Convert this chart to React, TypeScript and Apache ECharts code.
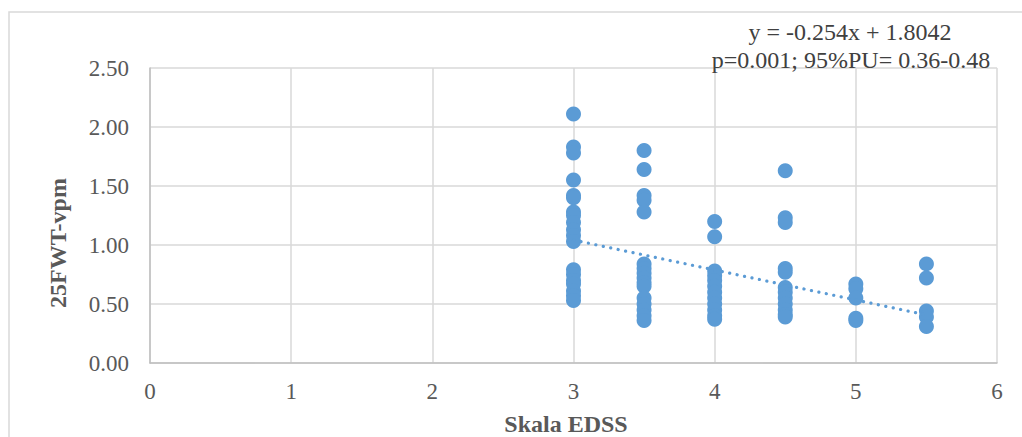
import React, { useEffect, useRef } from "react";
import * as echarts from "echarts";

const xCategories = [3, 3.5, 4, 4.5, 5, 5.5];
const values30 = [2.11, 1.83, 1.78, 1.55, 1.42, 1.4, 1.28, 1.25, 1.19, 1.13, 1.08, 1.03, 0.79, 0.75, 0.7, 0.67, 0.61, 0.57, 0.53];
const values35 = [1.8, 1.64, 1.42, 1.38, 1.28, 0.84, 0.8, 0.76, 0.72, 0.68, 0.65, 0.55, 0.5, 0.45, 0.4, 0.36];
const values40 = [1.2, 1.07, 0.78, 0.74, 0.7, 0.65, 0.6, 0.55, 0.5, 0.45, 0.4, 0.37];
const values45 = [1.63, 1.23, 1.19, 0.8, 0.77, 0.64, 0.6, 0.55, 0.5, 0.45, 0.41, 0.39];
const values50 = [0.67, 0.63, 0.55, 0.38, 0.36];
const values55 = [0.84, 0.72, 0.44, 0.39, 0.31];
const trendSlope = -0.254;
const trendIntercept = 1.8042;
const trendRange = [3, 5.5];
const xTicks = [0, 1, 2, 3, 4, 5, 6];
const yTicks = [0, 0.5, 1, 1.5, 2, 2.5];
const xAxisName = "Skala EDSS";
const yAxisName = "25FWT-vpm";
const equationText = "y = -0.254x + 1.8042";
const pText = "p=0.001; 95%PU= 0.36-0.48";

export default function App() {
  const ref = useRef<HTMLDivElement>(null);
  useEffect(() => {
    if (!ref.current) return;
    const chart = echarts.init(ref.current, null, { renderer: "svg" });
    const columns = [values30, values35, values40, values45, values50, values55];
    const points: number[][] = [];
    columns.forEach((col, i) => col.forEach((v) => points.push([xCategories[i], v])));
    const trend = trendRange.map((x) => [x, trendSlope * x + trendIntercept]);
    const font = "Liberation Serif, Times New Roman, serif";
    chart.setOption({
      animation: false,
      textStyle: { fontFamily: font },
      grid: { left: 150, right: 25, top: 68, bottom: 74, outerBoundsMode: "none", containLabel: false },
      xAxis: {
        type: "value",
        min: xTicks[0],
        max: xTicks[xTicks.length - 1],
        interval: 1,
        axisLine: { lineStyle: { color: "#bfbfbf", width: 1.5 } },
        axisTick: { show: false },
        axisLabel: { fontFamily: font, fontSize: 23, color: "#595959", margin: 17 },
        splitLine: { show: true, lineStyle: { color: "#d9d9d9", width: 1.5 } },
      },
      yAxis: {
        type: "value",
        min: yTicks[0],
        max: yTicks[yTicks.length - 1],
        interval: 0.5,
        axisLine: { show: true, lineStyle: { color: "#bfbfbf", width: 1.5 } },
        axisTick: { show: false },
        axisLabel: {
          fontFamily: font,
          fontSize: 23,
          color: "#595959",
          margin: 21,
          formatter: (v: number) => v.toFixed(2),
        },
        splitLine: { show: true, lineStyle: { color: "#d9d9d9", width: 1.5 } },
      },
      series: [
        {
          type: "scatter",
          data: points,
          symbolSize: 15,
          itemStyle: { color: "#5b9bd5", opacity: 1 },
          z: 2,
        },
        {
          type: "line",
          data: trend,
          symbol: "none",
          lineStyle: { color: "#5b9bd5", width: 3.2, type: [0.1, 7.5], cap: "round" },
          z: 3,
        },
      ],
      graphic: [
        {
          type: "rect",
          shape: { x: 9, y: 12, width: 1100, height: 500 },
          style: { fill: "none", stroke: "#d9d9d9", lineWidth: 1.5 },
          silent: true,
          z: -10,
        },
        {
          type: "text",
          x: 566,
          y: 424,
          style: {
            text: xAxisName,
            fontFamily: font,
            fontSize: 24,
            fontWeight: "bold",
            fill: "#595959",
            align: "center",
            verticalAlign: "middle",
          },
        },
        {
          type: "text",
          x: 58,
          y: 243,
          rotation: Math.PI / 2,
          style: {
            text: yAxisName,
            fontFamily: font,
            fontSize: 24,
            fontWeight: "bold",
            fill: "#595959",
            align: "center",
            verticalAlign: "middle",
          },
        },
        {
          type: "text",
          x: 850,
          y: 32,
          style: {
            text: equationText,
            fontFamily: font,
            fontSize: 24,
            fill: "#404040",
            align: "center",
            verticalAlign: "middle",
          },
        },
        {
          type: "text",
          x: 851,
          y: 60,
          style: {
            text: pText,
            fontFamily: font,
            fontSize: 24,
            fill: "#404040",
            align: "center",
            verticalAlign: "middle",
          },
          z: 10,
        },
      ],
    });
    return () => chart.dispose();
  }, []);
  return (
    <div
      ref={ref}
      style={{ position: "absolute", left: 0, top: 0, width: 1022, height: 437, background: "#ffffff" }}
    />
  );
}
